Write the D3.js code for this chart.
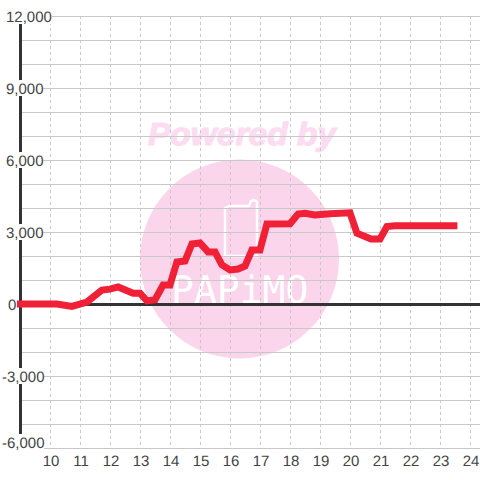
<!DOCTYPE html>
<html><head><meta charset="utf-8">
<style>html,body{margin:0;padding:0;background:#fff}svg{display:block}text{font-family:"Liberation Sans",Arial,sans-serif;text-rendering:geometricPrecision}</style>
<script src="https://cdn.jsdelivr.net/npm/d3@7"></script>
</head><body><div id="c"></div>
<script>
const hours=[8.9,10.23,10.73,11.23,11.73,12,12.27,12.77,13,13.23,13.5,13.77,14,14.23,14.5,14.73,15,15.27,15.5,15.73,16,16.27,16.5,16.73,17,17.23,18,18.27,18.5,18.83,19.33,20,20.23,20.7,21,21.23,21.5,23.58];
const values=[0,0,-100,80,580,620,710,450,450,130,180,790,790,1750,1790,2500,2540,2170,2170,1630,1420,1460,1580,2250,2250,3330,3340,3750,3780,3710,3760,3800,2950,2710,2710,3230,3260,3260];
const yTicks=[-6000,-3000,0,3000,6000,9000,12000];
const yGrid=d3.range(-6000,12001,1000);
const xTicks=d3.range(10,25);
const x=d3.scaleLinear().domain([10,24]).range([50,470]);
const y=d3.scaleLinear().domain([-6000,12000]).range([448,16]);
const fmt=d=>d3.format(",")(d).replace("\u2212","-");
const svg=d3.select("#c").append("svg").attr("width",480).attr("height",480);
// watermark
svg.append("circle").attr("cx",239.5).attr("cy",259).attr("r",99.5).attr("fill","#fbd5ec");
svg.append("text").attr("x",148).attr("y",145).attr("font-size",32).attr("font-weight","bold").attr("font-style","italic").attr("fill","#fcdcf0").attr("stroke","#fcdcf0").attr("stroke-width",1.2).attr("textLength",188).attr("lengthAdjust","spacingAndGlyphs").text("Powered by");
svg.append("path").attr("d","M229 206 L249 206 L251 201 Q255 199 257 202 L257 256 L225 256 L225 208 Z").attr("fill","none").attr("stroke","#fff").attr("stroke-width",2.5).attr("stroke-linejoin","round");
svg.append("text").attr("x",171).attr("y",303).attr("font-size",38).attr("fill","#fff").style("font-family","'DejaVu Sans Mono'").text("PAPiMO");
// grid
svg.append("g").selectAll("line").data(yGrid).join("line").attr("x1",20).attr("x2",480).attr("y1",d=>y(d)+.5).attr("y2",d=>y(d)+.5).attr("stroke","#c8c8c8").attr("stroke-width",1.2);
svg.append("g").selectAll("line").data(xTicks).join("line").attr("x1",d=>x(d)+.5).attr("x2",d=>x(d)+.5).attr("y1",16).attr("y2",448).attr("stroke","#c8c8c8").attr("stroke-dasharray","3 3");
// axes
svg.append("line").attr("x1",20).attr("x2",480).attr("y1",y(0)+.5).attr("y2",y(0)+.5).attr("stroke","#333").attr("stroke-width",3);
svg.append("line").attr("x1",20.5).attr("x2",20.5).attr("y1",16).attr("y2",448).attr("stroke","#333").attr("stroke-width",3);
// y labels with white backing
const lab=svg.append("g").selectAll("g").data(yTicks).join("g").attr("transform",d=>`translate(0,${d===-6000?y(d)-6:y(d)})`);
const lx=d=>d===0?8:(d<0?2:6);
lab.append("rect").attr("x",lx).attr("y",-8).attr("height",16).attr("width",d=>d===0?8:(d>=12000?46:(d<0?42:37))).attr("fill","#fff");
lab.append("text").attr("x",lx).attr("y",6).attr("font-size",15).attr("fill","#444").text(fmt);
svg.append("g").selectAll("text").data(xTicks).join("text").attr("x",d=>x(d)+1).attr("y",466).attr("text-anchor","middle").attr("font-size",15).attr("fill","#444").text(d=>d);
// series
svg.append("path").datum(d3.zip(hours,values)).attr("d",d3.line().x(d=>x(d[0])).y(d=>y(d[1]))).attr("fill","none").attr("stroke","#f02036").attr("stroke-width",7).attr("stroke-linejoin","miter");
</script></body></html>
